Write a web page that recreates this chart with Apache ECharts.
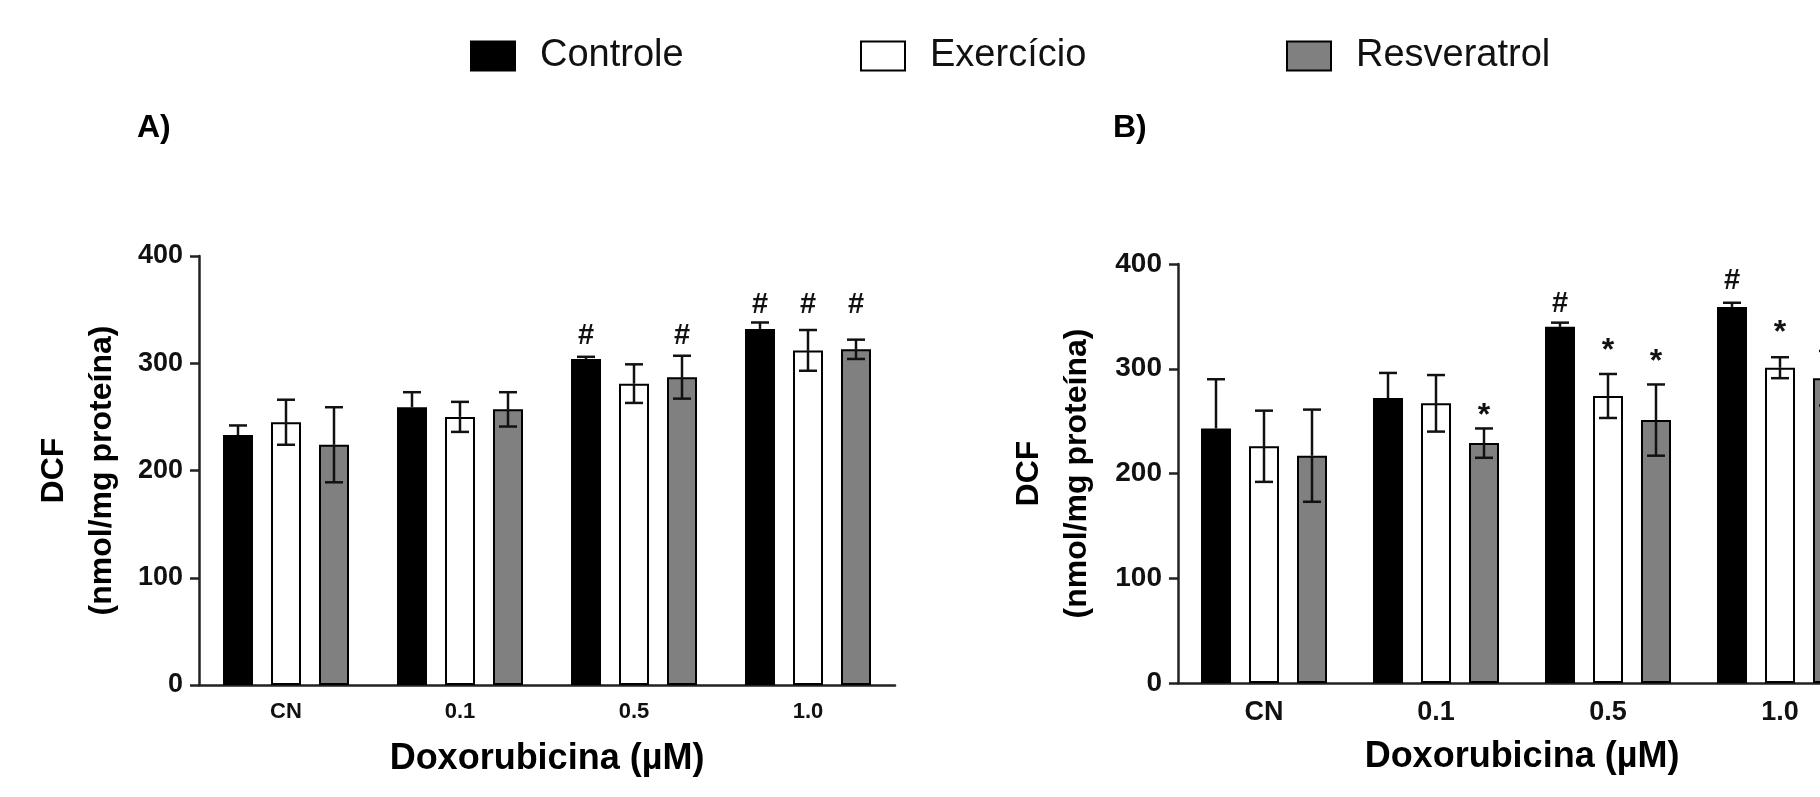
<!DOCTYPE html>
<html>
<head>
<meta charset="utf-8">
<script src="https://cdn.jsdelivr.net/npm/echarts@6/dist/echarts.min.js"></script>
<style>
  html, body { margin: 0; padding: 0; background: #fff; overflow: hidden; width: 1820px; height: 797px; }
  /* o painel B) passa da borda direita, como na figura original */
  #chart { width: 1900px; height: 797px; }
</style>
</head>
<body>
<div id="chart"></div>
<script>
// categorias e grupos
const categories = ['CN', '0.1', '0.5', '1.0'];
const groupNames = ['Controle', 'Exercício', 'Resveratrol'];
const yTicks = [0, 100, 200, 300, 400];

// painel A) — médias e erros
const aControle = [233, 259, 304, 332];
const aControleErr = [9, 14, 2, 6];
const aExercicio = [245, 250, 281, 312];
const aExercicioErr = [21, 14, 18, 19];
const aResveratrol = [224, 257, 287, 313];
const aResveratrolErr = [35, 16, 20, 9];

// painel B)
const bControle = [243, 272, 340, 359];
const bControleErr = [47, 24, 4, 4];
const bExercicio = [226, 267, 274, 301];
const bExercicioErr = [34, 27, 21, 10];
const bResveratrol = [217, 229, 251, 291];
const bResveratrolErr = [44, 14, 34, 26];

// marcadores de significância: [grupo, categoria, símbolo, altura]
const aMarks = [[0, 2, '#', 325], [2, 2, '#', 325], [0, 3, '#', 354], [1, 3, '#', 354], [2, 3, '#', 354]];
const bMarks = [[0, 2, '#', 362], [0, 3, '#', 384], [2, 1, '*', 262], [1, 2, '*', 324], [2, 2, '*', 314], [1, 3, '*', 342], [2, 3, '*', 342]];

const FONT = 'Liberation Sans, Arial, sans-serif';
const colors = ['#000000', '#ffffff', '#808080'];
const BAR_W = 30;
const BAR_STEP = 48; // largura + espaço entre barras

const chart = echarts.init(document.getElementById('chart'));

function barSeries(name, data, k, gi) {
  return {
    name: name,
    type: 'bar',
    xAxisIndex: gi,
    yAxisIndex: gi,
    data: data,
    barWidth: BAR_W,
    barGap: '60%',
    itemStyle: { color: colors[k], borderColor: '#000', borderWidth: 2 },
    z: 2
  };
}

function errSeries(vals, errs, k, gi) {
  return {
    type: 'custom',
    xAxisIndex: gi,
    yAxisIndex: gi,
    z: 4,
    silent: true,
    data: vals.map((v, i) => [i, v, errs[i]]),
    renderItem: function (params, api) {
      const i = api.value(0), v = api.value(1), e = api.value(2);
      const top = api.coord([i, v + e]);
      const mid = api.coord([i, v]);
      const bot = api.coord([i, v - e]);
      const x = top[0] + (k - 1) * BAR_STEP;
      const cap = 9;
      const st = { stroke: '#111', lineWidth: 2.5 };
      const parts = [
        { type: 'line', shape: { x1: x, y1: top[1], x2: x, y2: mid[1] }, style: st },
        { type: 'line', shape: { x1: x - cap, y1: top[1], x2: x + cap, y2: top[1] }, style: st }
      ];
      // barra preta esconde a metade de baixo
      if (k !== 0) {
        parts.push({ type: 'line', shape: { x1: x, y1: mid[1], x2: x, y2: bot[1] }, style: st });
        parts.push({ type: 'line', shape: { x1: x - cap, y1: bot[1], x2: x + cap, y2: bot[1] }, style: st });
      }
      return { type: 'group', children: parts };
    }
  };
}

function markSeries(marks, gi) {
  return {
    type: 'custom',
    xAxisIndex: gi,
    yAxisIndex: gi,
    z: 5,
    silent: true,
    data: marks.map(m => [m[1], m[3], m[0]]),
    renderItem: function (params, api) {
      const p = api.coord([api.value(0), api.value(1)]);
      const k = api.value(2);
      const sym = marks[params.dataIndex][2];
      const isStar = sym === '*';
      return {
        type: 'text',
        style: {
          text: sym,
          x: p[0] + (k - 1) * BAR_STEP,
          y: p[1] + (isStar ? 8 : 0),
          align: 'center',
          verticalAlign: 'middle',
          font: 'bold ' + (isStar ? 32 : 29) + 'px ' + FONT,
          fill: '#111'
        }
      };
    }
  };
}

function xAxis(gi, labelSize) {
  return {
    type: 'category',
    gridIndex: gi,
    data: categories,
    name: 'Doxorubicina (µM)',
    nameLocation: 'middle',
    nameGap: 56,
    nameTextStyle: { fontFamily: FONT, fontWeight: 'bold', fontSize: 36, color: '#000' },
    axisLine: { lineStyle: { color: '#222', width: 2.5 } },
    axisTick: { alignWithLabel: true, length: 8, lineStyle: { color: '#222', width: 2.5 } },
    axisLabel: { fontFamily: FONT, fontWeight: 'bold', fontSize: labelSize, color: '#111', margin: 16 },
    splitLine: { show: false }
  };
}

function yAxis(gi, labelSize, gap) {
  return {
    type: 'value',
    gridIndex: gi,
    min: yTicks[0],
    max: yTicks[yTicks.length - 1],
    interval: 100,
    name: 'DCF\n(nmol/mg proteína)',
    nameLocation: 'middle',
    nameRotate: 90,
    nameGap: gap,
    nameTextStyle: { fontFamily: FONT, fontWeight: 'bold', fontSize: 32, lineHeight: 48, color: '#000', align: 'center' },
    axisLine: { show: true, lineStyle: { color: '#222', width: 2.5 } },
    axisTick: { show: true, length: 9, lineStyle: { color: '#222', width: 2.5 } },
    axisLabel: { fontFamily: FONT, fontWeight: 'bold', fontSize: labelSize, color: '#111', margin: 16 },
    splitLine: { show: false }
  };
}

function legendItem(name, left) {
  return {
    data: [name],
    left: left,
    top: 37,
    padding: 0,
    itemWidth: 44,
    itemHeight: 29,
    icon: 'rect',
    selectedMode: false,
    textStyle: { fontFamily: FONT, fontSize: 38, color: '#111', padding: [0, 0, 0, 20] }
  };
}

const option = {
  animation: false,
  backgroundColor: '#fff',
  title: [
    { text: 'A)', left: 137, top: 112, padding: 0, textStyle: { fontFamily: FONT, fontWeight: 'bold', fontSize: 32, color: '#000' } },
    { text: 'B)', left: 1113, top: 112, padding: 0, textStyle: { fontFamily: FONT, fontWeight: 'bold', fontSize: 32, color: '#000' } }
  ],
  legend: [
    legendItem(groupNames[0], 470),
    legendItem(groupNames[1], 860),
    legendItem(groupNames[2], 1286)
  ],
  grid: [
    { left: 199, top: 256, width: 696, bottom: 112 },
    { left: 1178, top: 264, width: 688, bottom: 114 }
  ],
  xAxis: [xAxis(0, 22), xAxis(1, 27)],
  yAxis: [yAxis(0, 27, 73), yAxis(1, 28, 77)],
  series: [
    barSeries(groupNames[0], aControle, 0, 0),
    barSeries(groupNames[1], aExercicio, 1, 0),
    barSeries(groupNames[2], aResveratrol, 2, 0),
    errSeries(aControle, aControleErr, 0, 0),
    errSeries(aExercicio, aExercicioErr, 1, 0),
    errSeries(aResveratrol, aResveratrolErr, 2, 0),
    markSeries(aMarks, 0),
    barSeries(groupNames[0], bControle, 0, 1),
    barSeries(groupNames[1], bExercicio, 1, 1),
    barSeries(groupNames[2], bResveratrol, 2, 1),
    errSeries(bControle, bControleErr, 0, 1),
    errSeries(bExercicio, bExercicioErr, 1, 1),
    errSeries(bResveratrol, bResveratrolErr, 2, 1),
    markSeries(bMarks, 1)
  ]
};

chart.setOption(option);
</script>
</body>
</html>
